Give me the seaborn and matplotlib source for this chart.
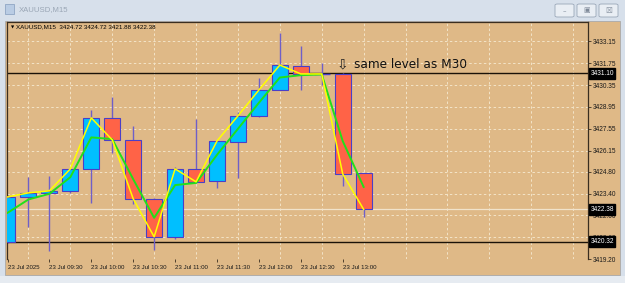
import matplotlib
matplotlib.use("Agg")
import matplotlib.pyplot as plt
import matplotlib.transforms as mtransforms
from matplotlib.patches import Rectangle, FancyBboxPatch
import seaborn as sns
import numpy as np

# ---------------- data ----------------
candle_index = list(range(18))
opens  = [3420.30, 3423.18, 3423.44, 3423.57, 3424.98, 3428.25, 3426.84, 3423.06, 3420.62,
          3424.98, 3424.21, 3426.71, 3428.38, 3430.04, 3431.58, 3431.07, 3431.07, 3424.72]
highs  = [3423.30, 3424.47, 3424.53, 3424.98, 3428.76, 3429.59, 3427.73, 3423.10, 3425.11,
          3428.18, 3426.77, 3428.63, 3430.81, 3433.69, 3432.86, 3431.77, 3431.10, 3424.72]
lows   = [3420.20, 3421.27, 3419.74, 3423.44, 3422.80, 3426.00, 3422.74, 3419.79, 3420.49,
          3424.10, 3423.76, 3424.40, 3428.31, 3430.04, 3430.04, 3430.36, 3423.89, 3421.88]
closes = [3423.18, 3423.44, 3423.57, 3424.98, 3428.25, 3426.84, 3423.06, 3420.62, 3424.98,
          3424.15, 3426.77, 3428.38, 3430.04, 3431.64, 3431.07, 3431.07, 3424.66, 3422.38]
ma_green = [3422.16, 3423.02, 3423.38, 3424.45, 3427.00, 3426.89, 3424.32, 3421.84, 3423.94,
            3424.08, 3425.88, 3427.55, 3429.22, 3430.84, 3430.99, 3431.04, 3426.77, 3423.82]

x_tick_pos = [0, 2, 4, 6, 8, 10, 12, 14, 16]
x_tick_labels = ["23 Jul 2025", "23 Jul 09:30", "23 Jul 10:00", "23 Jul 10:30", "23 Jul 11:00",
                 "23 Jul 11:30", "23 Jul 12:00", "23 Jul 12:30", "23 Jul 13:00"]
y_ticks = [3433.15, 3431.75, 3430.35, 3428.95, 3427.55, 3426.15, 3424.80, 3423.40,
           3422.00, 3420.60, 3419.20]
level_lines = [3431.10, 3420.32]
bid_price = 3422.38
header = "XAUUSD,M15  3424.72 3424.72 3421.88 3422.38"
annotation = "same level as M30"
annotation_index = 16
annotation_price = 3431.10

# ---------------- styling ----------------
W, H = 625, 283
TAN = "#DFB987"
CHROME = "#D7E0EB"
BLUE = "#00BFFF"
RED = "#FF6347"
EDGE = "#4A3FC8"
WICK = "#6F5FC8"
GRID = "#F3E4C8"
FONT = "Liberation Sans"

fig = plt.figure(figsize=(W / 100, H / 100), dpi=100, facecolor=CHROME)


def px(x, y_top, w, h):
    """pixel box (from top-left) -> figure fraction rectangle args"""
    return (x / W, 1 - (y_top + h) / H), w / W, h / H


# tan chart window
(xy, w, h) = px(5, 21, 615, 254)
fig.patches.append(Rectangle(xy, w, h, transform=fig.transFigure, facecolor=TAN,
                             edgecolor="#A9A9A9", lw=0.6, zorder=-5))
# bottom strip
(xy, w, h) = px(0, 276, 625, 7)
fig.patches.append(Rectangle(xy, w, h, transform=fig.transFigure, facecolor="#E6EBF1",
                             edgecolor="none", zorder=-5))
# title bar icon
(xy, w, h) = px(5, 4, 9, 10)
fig.patches.append(Rectangle(xy, w, h, transform=fig.transFigure, facecolor="#B9CCE4",
                             edgecolor="#8FA6C4", lw=0.6, zorder=-4))
fig.text(19 / W, 1 - 10 / H, "XAUUSD,M15", fontsize=5.6, family=FONT, color="#9AA6B5",
         va="center", ha="left")
# window buttons
for bx in (555, 577, 599):
    (xy, w, h) = px(bx, 4, 19, 13)
    fig.patches.append(FancyBboxPatch(xy, w, h, boxstyle="round,pad=0,rounding_size=0.004",
                                      transform=fig.transFigure, facecolor="#E9EEF4",
                                      edgecolor="#9AA7B8", lw=0.6, zorder=-4))
fig.text(564.5 / W, 1 - 11 / H, "\u2013", fontsize=5, color="#7F8A99", ha="center", va="center")
fig.text(586.5 / W, 1 - 10.5 / H, "\u25A3", fontsize=5, color="#7F8A99", ha="center", va="center")
fig.text(608.5 / W, 1 - 10.5 / H, "\u2612", fontsize=5.5, color="#7F8A99", ha="center", va="center")

# plot axes
left, right, top, bottom = 7, 588, 22, 259
ax = fig.add_axes([left / W, 1 - bottom / H, (right - left) / W, (bottom - top) / H])
ax.set_zorder(5)
ax.set_facecolor(TAN)
ax.set_xlim(-0.024, 27.71)
ax.set_ylim(3419.20, 3434.40)

# grid
for yv in y_ticks:
    ax.axhline(yv, color=GRID, lw=0.7, ls=(0, (2.5, 2.5)), zorder=0.5)
for xv in range(1, 28, 2):
    ax.axvline(xv, color=GRID, lw=0.7, ls=(0, (2.5, 2.5)), zorder=0.5)

# bid line and level lines
ax.axhline(bid_price, color="#F1E3CB", lw=0.9, zorder=0.8)
for lv in level_lines:
    ax.axhline(lv, color="#1A1208", lw=1.0, zorder=1.5)

# candles
body_w = 0.76
for i, o, hi, lo, c in zip(candle_index, opens, highs, lows, closes):
    ax.vlines(i, lo, hi, color=WICK, lw=1.0, zorder=2)
    col = BLUE if c >= o else RED
    if abs(c - o) < 1e-6:
        ax.hlines(o, i - body_w / 2, i + body_w / 2, color=EDGE, lw=1.0, zorder=3)
    else:
        ax.bar(i, c - o, bottom=o, width=body_w, color=col, edgecolor=EDGE, lw=0.8, zorder=3)

# lines (seaborn)
sns.lineplot(x=candle_index, y=ma_green, color="#22E01A", lw=1.4, ax=ax, zorder=4)
sns.lineplot(x=candle_index, y=closes, color="#FFFF00", lw=1.1, ax=ax, zorder=5)

# spines
for s in ("left", "top", "right"):
    ax.spines[s].set_color("#3A2E20")
    ax.spines[s].set_linewidth(0.9)
ax.spines["bottom"].set_visible(False)

# axes ticks
ax.yaxis.tick_right()
ax.set_yticks(y_ticks)
ax.set_yticklabels([f"{v:.2f}" for v in y_ticks])
ax.tick_params(axis="y", direction="out", length=2.5, width=0.6, color="#3A2E20",
               pad=1.2, labelsize=4.7, labelcolor="#1A1A1A")
ax.set_xticks(x_tick_pos)
ax.set_xticklabels(x_tick_labels, ha="left")
ax.tick_params(axis="x", direction="out", length=2.5, width=0.6, color="#3A2E20",
               pad=1.5, labelsize=4.4, labelcolor="#1A1A1A")
for lab in ax.get_xticklabels() + ax.get_yticklabels():
    lab.set_family(FONT)
ax.set_xlabel("")
ax.set_ylabel("")

# black price boxes on the right axis
trans = mtransforms.blended_transform_factory(ax.transAxes, ax.transData)
for v in level_lines + [bid_price]:
    ax.text(1.004, v, f"{v:.2f}", transform=trans, fontsize=4.7, family=FONT, color="white",
            va="center", ha="left", zorder=10, clip_on=False,
            bbox=dict(boxstyle="square,pad=0.25", facecolor="black", edgecolor="black"))

# header
ax.text(0.006, 0.985, "\u25BC", transform=ax.transAxes, fontsize=3, color="black",
        va="top", ha="left")
ax.text(0.016, 0.99, header, transform=ax.transAxes, fontsize=4.5, family=FONT,
        color="black", va="top", ha="left")

# annotation
ax.text(annotation_index, annotation_price + 0.55, "\u21E9", fontsize=10, family="DejaVu Sans",
        color="#222222", ha="center", va="center", zorder=6)
ax.text(annotation_index + 0.55, annotation_price + 0.55, annotation, fontsize=8.7,
        family="DejaVu Sans", color="#111111", ha="left", va="center", zorder=6)

fig.savefig("out.png", dpi=100, facecolor=CHROME)
